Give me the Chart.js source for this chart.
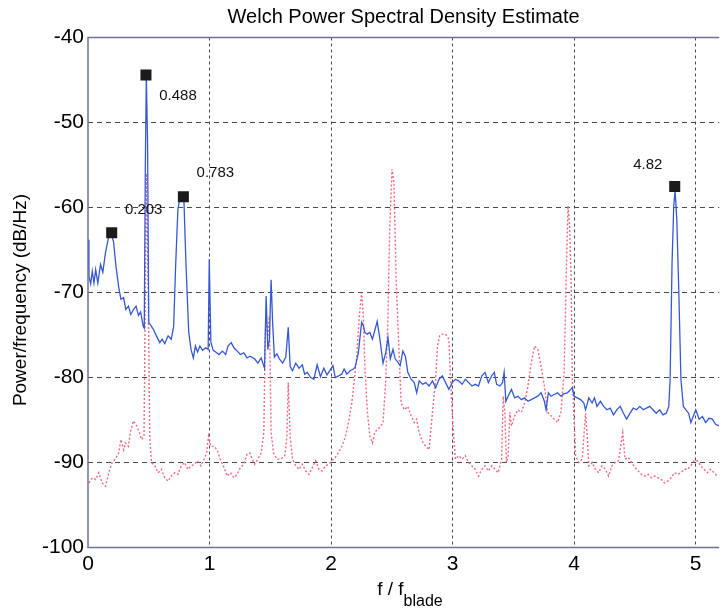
<!DOCTYPE html>
<html>
<head>
<meta charset="utf-8">
<script src="https://cdn.jsdelivr.net/npm/chart.js@4/dist/chart.umd.min.js"></script>
<style>
html,body{margin:0;padding:0;background:#fff;}
#wrap{width:727px;height:612px;}
</style>
</head>
<body>
<div id="wrap"><canvas id="c" width="727" height="612"></canvas></div>
<script>
// ---- data ----
const chartTitle = 'Welch Power Spectral Density Estimate';
const yTitle = 'Power/frequency (dB/Hz)';
const xTitleMain = 'f / f';
const xTitleSub = 'blade';
const xTicks = [0, 1, 2, 3, 4, 5];
const yTicks = [-100, -90, -80, -70, -60, -50, -40];

const blueF = [0,0.008,0.022,0.035,0.049,0.063,0.081,0.103,0.122,0.144,0.171,0.189,0.211,0.230,0.252,0.271,0.293,0.311,0.333,0.352,0.374,0.396,0.415,0.433,0.455,0.463,0.472,0.480,0.490,0.500,0.537,0.563,0.591,0.610,0.632,0.659,0.685,0.705,0.721,0.740,0.756,0.772,0.789,0.807,0.829,0.848,0.867,0.884,0.902,0.921,0.943,0.970,0.989,0.998,1.011,1.030,1.051,1.079,1.106,1.133,1.152,1.179,1.201,1.228,1.254,1.282,1.309,1.333,1.371,1.398,1.425,1.453,1.466,1.480,1.493,1.507,1.520,1.534,1.555,1.575,1.602,1.628,1.648,1.664,1.683,1.710,1.737,1.764,1.783,1.805,1.832,1.859,1.886,1.913,1.941,1.967,1.994,2.016,2.035,2.063,2.089,2.108,2.130,2.157,2.185,2.198,2.225,2.252,2.266,2.279,2.298,2.320,2.341,2.360,2.380,2.401,2.428,2.450,2.469,2.488,2.510,2.528,2.550,2.569,2.591,2.612,2.632,2.659,2.685,2.705,2.726,2.754,2.780,2.807,2.835,2.862,2.889,2.916,2.943,2.970,2.998,3.024,3.051,3.079,3.106,3.133,3.160,3.187,3.214,3.241,3.268,3.295,3.323,3.344,3.363,3.390,3.412,3.425,3.439,3.458,3.485,3.512,3.539,3.567,3.593,3.621,3.648,3.675,3.702,3.729,3.756,3.770,3.789,3.811,3.837,3.865,3.892,3.919,3.946,3.973,3.986,4.000,4.027,4.054,4.081,4.095,4.122,4.149,4.168,4.189,4.217,4.244,4.271,4.298,4.325,4.352,4.380,4.407,4.433,4.461,4.488,4.515,4.542,4.569,4.596,4.623,4.650,4.677,4.705,4.732,4.759,4.780,4.791,4.807,4.821,4.832,4.846,4.862,4.880,4.900,4.921,4.943,4.962,4.981,5.002,5.030,5.057,5.084,5.111,5.138,5.165,5.193];
const bluePSD = [-63.8,-68.1,-69.0,-67.5,-68.9,-67.3,-68.9,-66.7,-67.6,-65.3,-63.4,-62.9,-64.1,-66.9,-69.3,-70.8,-70.6,-72.0,-71.6,-72.6,-72.0,-71.6,-72.7,-72.3,-74.0,-74.2,-55.0,-44.6,-52.0,-73.5,-74.3,-75.1,-75.9,-75.5,-76.0,-75.1,-75.5,-74.0,-66.9,-60.2,-58.9,-58.6,-59.0,-66.9,-74.7,-76.7,-77.7,-76.3,-77.0,-76.3,-76.8,-76.5,-76.7,-66.1,-75.8,-76.8,-77.0,-77.3,-76.9,-77.3,-76.3,-75.9,-76.5,-76.9,-77.3,-77.1,-77.7,-77.5,-77.8,-78.3,-77.7,-78.9,-70.4,-76.7,-75.5,-68.5,-73.7,-77.6,-77.2,-77.8,-78.3,-77.6,-74.1,-78.7,-79.2,-78.3,-78.9,-78.5,-79.6,-79.4,-80.0,-80.2,-78.5,-79.9,-78.9,-79.7,-79.1,-78.6,-80.0,-79.8,-79.6,-79.0,-79.6,-79.2,-79.0,-78.8,-77.1,-73.5,-73.9,-74.7,-74.9,-74.7,-75.5,-74.5,-73.4,-75.3,-78.3,-77.1,-75.3,-77.8,-76.7,-77.8,-78.2,-78.6,-76.9,-77.5,-79.4,-80.2,-80.6,-81.8,-80.4,-80.8,-80.6,-81.0,-80.4,-81.2,-80.2,-79.8,-80.6,-81.4,-80.6,-80.2,-80.4,-80.8,-80.2,-80.6,-81.0,-80.8,-81.0,-79.8,-79.4,-80.6,-79.8,-79.4,-80.8,-81.0,-80.6,-79.4,-82.8,-82.2,-81.4,-82.4,-82.2,-82.6,-82.4,-82.8,-82.6,-82.4,-82.2,-81.8,-82.8,-83.8,-81.8,-82.2,-82.0,-81.8,-82.2,-81.9,-81.8,-81.4,-81.2,-82.2,-82.4,-82.6,-83.0,-83.8,-82.4,-83.0,-82.4,-83.4,-82.8,-83.4,-83.8,-83.6,-84.4,-83.8,-83.4,-84.2,-84.9,-84.2,-83.6,-83.8,-83.4,-83.8,-83.6,-83.4,-83.8,-84.2,-83.8,-84.4,-84.2,-83.4,-80.2,-66.5,-59.8,-58.0,-61.4,-69.6,-80.2,-83.4,-83.8,-84.2,-85.3,-84.6,-83.8,-84.9,-84.6,-85.3,-84.8,-84.9,-85.5,-85.7];

const redF = [0.008,0.035,0.063,0.089,0.116,0.144,0.171,0.198,0.225,0.252,0.271,0.293,0.306,0.333,0.347,0.374,0.401,0.423,0.441,0.461,0.472,0.480,0.496,0.508,0.523,0.550,0.577,0.604,0.632,0.659,0.685,0.713,0.740,0.767,0.794,0.821,0.848,0.876,0.902,0.929,0.957,0.976,0.992,1.011,1.038,1.065,1.092,1.120,1.146,1.173,1.201,1.228,1.254,1.282,1.309,1.333,1.371,1.398,1.425,1.447,1.459,1.466,1.480,1.493,1.507,1.528,1.555,1.588,1.620,1.637,1.648,1.664,1.683,1.710,1.737,1.764,1.791,1.819,1.846,1.873,1.900,1.927,1.954,1.981,2.008,2.035,2.063,2.089,2.116,2.144,2.171,2.190,2.211,2.233,2.252,2.266,2.279,2.298,2.320,2.341,2.360,2.380,2.401,2.428,2.450,2.469,2.482,2.502,2.518,2.537,2.559,2.577,2.604,2.632,2.659,2.685,2.705,2.726,2.754,2.780,2.807,2.835,2.862,2.876,2.894,2.916,2.943,2.970,2.984,2.998,3.011,3.024,3.051,3.079,3.106,3.133,3.160,3.187,3.214,3.241,3.268,3.295,3.323,3.350,3.376,3.404,3.417,3.431,3.444,3.458,3.472,3.485,3.512,3.539,3.567,3.593,3.621,3.648,3.675,3.702,3.729,3.756,3.783,3.811,3.837,3.865,3.892,3.919,3.935,3.951,3.963,3.976,3.986,4.014,4.041,4.068,4.095,4.108,4.122,4.149,4.176,4.203,4.230,4.258,4.285,4.311,4.339,4.366,4.401,4.420,4.447,4.474,4.502,4.528,4.555,4.583,4.610,4.637,4.664,4.691,4.718,4.745,4.772,4.799,4.827,4.854,4.880,4.908,4.935,4.961,4.989,5.016,5.043,5.071,5.098,5.124,5.152,5.179];
const redPSD = [-92.4,-91.8,-92.0,-91.2,-92.4,-92.8,-91.2,-90.0,-89.6,-88.9,-87.3,-88.5,-87.7,-88.1,-86.5,-85.1,-85.7,-86.5,-87.3,-86.9,-70.0,-56.0,-70.0,-87.0,-90.0,-90.4,-91.2,-90.8,-91.8,-92.2,-91.6,-91.2,-91.4,-90.4,-90.0,-90.8,-90.4,-90.2,-89.8,-90.4,-89.6,-88.9,-86.9,-88.1,-88.1,-88.6,-89.8,-90.6,-91.6,-91.2,-91.8,-91.4,-90.6,-90.2,-89.0,-88.9,-90.2,-89.6,-88.9,-86.5,-75.0,-72.8,-75.2,-72.8,-86.5,-88.9,-89.6,-89.6,-89.2,-86.9,-80.6,-86.9,-89.6,-90.4,-90.8,-90.2,-91.0,-91.4,-90.6,-89.8,-90.8,-91.0,-90.4,-90.2,-89.8,-89.4,-88.8,-88.1,-87.1,-85.3,-83.0,-80.6,-77.7,-72.8,-70.0,-72.8,-78.7,-83.8,-86.9,-87.7,-86.5,-86.1,-85.9,-85.3,-80.6,-72.8,-63.0,-55.5,-57.0,-68.8,-76.7,-83.0,-83.8,-83.4,-84.5,-85.3,-84.9,-86.5,-87.6,-88.1,-88.5,-84.1,-80.2,-76.3,-75.1,-74.9,-74.9,-75.5,-80.2,-84.1,-87.2,-89.6,-89.2,-89.6,-89.2,-90.0,-90.4,-90.8,-91.6,-90.8,-90.4,-91.0,-90.4,-90.8,-91.2,-89.6,-82.2,-84.1,-90.0,-89.2,-84.1,-85.7,-84.5,-83.8,-84.1,-83.0,-81.0,-78.3,-76.3,-76.7,-78.7,-81.0,-84.1,-84.5,-84.9,-85.3,-84.1,-79.4,-68.5,-59.8,-62.0,-68.0,-80.0,-89.3,-90.0,-89.6,-84.2,-86.7,-90.4,-90.0,-90.8,-91.2,-90.4,-90.8,-91.6,-90.4,-90.0,-89.8,-86.5,-89.6,-89.4,-90.0,-90.6,-91.0,-91.4,-91.6,-91.4,-91.8,-91.6,-91.8,-92.0,-92.4,-92.2,-91.8,-91.2,-91.4,-91.2,-90.8,-90.8,-90.4,-89.8,-89.8,-90.4,-90.8,-91.2,-90.8,-91.2,-91.6];

const peakF = [0.195, 0.477, 0.785, 4.829];
const peakPSD = [-62.96, -44.41, -58.73, -57.53];
const peakLabels = ['0.203', '0.488', '0.783', '4.82'];

// ---- styling ----
const FONT = '"Liberation Sans", Arial, Helvetica, sans-serif';
const AXIS_COLOR = '#6d7395';
const GRID_COLOR = '#4a4a4a';
const labelOffsets = [[32, -23], [32, 21], [32, -24], [-27, -22]];

const toXY = (xs, ys) => xs.map((v, i) => ({x: v, y: ys[i]}));

const decor = {
  id: 'decor',
  afterDraw(chart) {
    const {ctx, chartArea: a, scales: {x, y}} = chart;
    ctx.save();
    // solid frame: top, left, bottom
    ctx.strokeStyle = AXIS_COLOR;
    ctx.lineWidth = 1.5;
    ctx.setLineDash([]);
    ctx.beginPath();
    ctx.moveTo(a.right, a.top);
    ctx.lineTo(a.left, a.top);
    ctx.lineTo(a.left, a.bottom);
    ctx.lineTo(a.right, a.bottom);
    ctx.stroke();
    // peak labels
    ctx.fillStyle = '#111';
    ctx.font = '15px ' + FONT;
    ctx.textAlign = 'center';
    ctx.textBaseline = 'middle';
    peakLabels.forEach((t, i) => {
      ctx.fillText(t, x.getPixelForValue(peakF[i]) + labelOffsets[i][0],
                      y.getPixelForValue(peakPSD[i]) + labelOffsets[i][1]);
    });
    // title
    ctx.font = '20px ' + FONT;
    ctx.fillStyle = '#000';
    ctx.fillText(chartTitle, (a.left + a.right) / 2, 17);
    // y title
    ctx.save();
    ctx.translate(21, 300);
    ctx.rotate(-Math.PI / 2);
    ctx.font = '19px ' + FONT;
    ctx.fillText(yTitle, 0, 0);
    ctx.restore();
    // x title with subscript
    ctx.textAlign = 'left';
    ctx.textBaseline = 'alphabetic';
    ctx.font = '19px ' + FONT;
    const w1 = ctx.measureText(xTitleMain).width;
    ctx.font = '16px ' + FONT;
    const w2 = ctx.measureText(xTitleSub).width;
    const x0 = 410 - (w1 + w2) / 2;
    ctx.font = '19px ' + FONT;
    ctx.fillText(xTitleMain, x0, 595);
    ctx.font = '16px ' + FONT;
    ctx.fillText(xTitleSub, x0 + w1, 606);
    ctx.restore();
  }
};

const edgeHidden = (edges) => (c) => (c.tick && edges.includes(c.tick.value)) ? 'rgba(0,0,0,0)' : GRID_COLOR;

new Chart(document.getElementById('c'), {
  type: 'line',
  data: {
    datasets: [
      {
        label: 'peaks',
        type: 'scatter',
        data: toXY(peakF, peakPSD),
        pointStyle: 'rect',
        pointRadius: 7.8,
        backgroundColor: '#1b1b1b',
        borderColor: '#1b1b1b',
        borderWidth: 0,
        order: 0
      },
      {
        label: 'blue',
        data: toXY(blueF, bluePSD),
        borderColor: '#3558d8',
        borderWidth: 1.3,
        pointRadius: 0,
        tension: 0,
        fill: false,
        order: 1
      },
      {
        label: 'red',
        data: toXY(redF, redPSD),
        borderColor: '#f06a80',
        borderWidth: 1.4,
        borderDash: [2, 2],
        pointRadius: 0,
        tension: 0,
        fill: false,
        order: 2
      }
    ]
  },
  options: {
    responsive: false,
    animation: false,
    devicePixelRatio: 1,
    layout: {padding: {top: 37.5, right: 0, left: 0, bottom: 0}},
    plugins: {legend: {display: false}, tooltip: {enabled: false}, title: {display: false}},
    scales: {
      x: {
        type: 'linear',
        min: 0,
        max: 5.195,
        afterFit(s) { s.height = 64.5; },
        afterBuildTicks(s) { s.ticks = xTicks.map(v => ({value: v})); },
        ticks: {
          font: {family: FONT, size: 21},
          color: '#000',
          padding: 4,
          maxRotation: 0,
          callback: v => String(v)
        },
        grid: {color: edgeHidden([0]), lineWidth: 1, drawTicks: false},
        border: {display: false, dash: [3, 3]}
      },
      y: {
        type: 'linear',
        min: -100,
        max: -40,
        afterFit(s) { s.width = 88; },
        afterBuildTicks(s) { s.ticks = yTicks.map(v => ({value: v})); },
        ticks: {
          font: {family: FONT, size: 21},
          color: '#000',
          padding: 4,
          callback: v => String(v)
        },
        grid: {color: edgeHidden([-100, -40]), lineWidth: 1, drawTicks: false},
        border: {display: false, dash: [5, 4]}
      }
    }
  },
  plugins: [decor]
});
</script>
</body>
</html>
